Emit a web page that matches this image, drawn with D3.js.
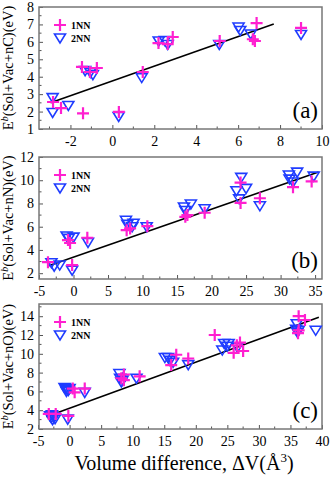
<!DOCTYPE html>
<html><head><meta charset="utf-8">
<script src="https://cdn.jsdelivr.net/npm/d3@7"></script>
<style>body{margin:0;background:#fff}svg{display:block}</style>
</head><body><svg id="c" width="332" height="477"></svg>
<script>
// Panel (a): nC
const a1NN = [[-2.83,2.55],[-2.45,2.2],[-1.4,1.9],[-1.45,4.56],[-1.07,4.27],[-0.74,4.5],[0.31,1.98],[1.45,4.27],[2.2,5.93],[2.64,5.87],[2.88,6.28],[5.12,6.05],[6.88,7.08],[6.7,6.15],[6.8,6.05],[9.0,6.8]];
const a2NN = [[-2.85,2.8],[-2.85,1.95],[-2.1,2.35],[-1.3,4.35],[-1.05,4.25],[-0.93,4.12],[0.3,1.72],[1.4,3.95],[2.21,6.05],[2.5,6.08],[2.64,5.85],[5.1,5.85],[6.02,6.85],[6.1,6.65],[6.6,6.45],[9.0,6.42]];
const aFit = [[-2.95,2.5],[7.7,7.02]];
const aXTicks = [-2,0,2,4,6,8,10];
const aYTicks = [1,2,3,4,5,6,7,8];
// Panel (b): nN
const b1NN = [[-3.7,2.95],[-0.8,4.85],[-0.5,4.6],[-0.2,2.7],[2.0,5.05],[7.7,5.7],[8.2,5.85],[10.7,6.05],[16.2,6.85],[16.5,7.0],[19.0,7.2],[24.2,8.05],[24.2,9.8],[27.0,8.45],[31.8,9.4],[34.5,9.9]];
const b2NN = [[-3.2,2.9],[-2.8,2.6],[-2.0,2.7],[-1.0,5.2],[-0.7,5.0],[0.0,5.1],[-0.2,2.25],[2.1,4.65],[7.6,6.55],[7.8,6.2],[8.5,6.0],[8.7,6.3],[10.6,6.0],[16.0,7.7],[16.2,7.4],[17.0,7.95],[19.0,7.55],[23.6,9.1],[24.3,10.25],[24.0,8.4],[25.0,9.3],[27.0,7.8],[31.2,10.45],[31.3,10.1],[31.8,9.85],[32.4,10.7],[34.8,10.35]];
const bFit = [[-3.8,2.6],[35.5,10.7]];
const bXTicks = [-5,0,5,10,15,20,25,30,35];
const bYTicks = [2,4,6,8,10,12];
// Panel (c): nO
const c1NN = [[-3.3,3.6],[-2.2,3.6],[-0.2,3.4],[0.5,6.3],[0.8,5.9],[2.4,6.3],[8.2,7.4],[8.6,7.8],[8.6,7.2],[11.1,7.6],[16.1,8.8],[16.9,9.9],[18.8,9.5],[23.0,12.0],[26.0,10.1],[26.5,10.9],[27.0,11.2],[27.5,10.3],[36.3,14.0],[37.3,13.6],[36.3,12.5],[36.2,12.2]];
const c2NN = [[-3.1,3.4],[-2.9,3.2],[-2.7,3.0],[-2.5,3.3],[-2.3,3.1],[-2.8,3.5],[-0.3,3.05],[-0.8,6.4],[-0.6,6.3],[-0.4,6.2],[-0.2,6.1],[0.0,6.3],[-0.5,6.0],[2.4,5.9],[7.9,7.9],[8.0,7.4],[8.4,7.2],[8.2,7.0],[10.6,7.4],[15.1,9.6],[15.6,9.6],[15.9,9.3],[16.4,9.1],[18.8,8.85],[24.2,10.4],[24.5,11.1],[25.2,11.1],[25.0,10.8],[26.6,10.7],[36.0,13.2],[35.9,12.6],[36.1,12.3],[36.3,12.5],[39.0,12.5]];
const cFit = [[-3.7,3.3],[39.5,13.9]];
const cXTicks = [-5,0,5,10,15,20,25,30,35,40];
const cYTicks = [2,4,6,8,10,12,14];

const panels = [
  {p1:a1NN,p2:a2NN,fit:aFit,xd:[-3.5,10],yd:[1,8],xt:aXTicks,yt:aYTicks,xm:1,ym:0.5,top:7,bot:129,el:"C",tag:"(a)"},
  {p1:b1NN,p2:b2NN,fit:bFit,xd:[-5,36],yd:[1.5,12],xt:bXTicks,yt:bYTicks,xm:2.5,ym:1,top:157,bot:279,el:"N",tag:"(b)"},
  {p1:c1NN,p2:c2NN,fit:cFit,xd:[-4.85,40],yd:[2,15.3],xt:cXTicks,yt:cYTicks,xm:2.5,ym:1,top:304,bot:429,el:"O",tag:"(c)"}
];
const L=39,R=322;
const FF="'Liberation Serif'";
const svg=d3.select("#c");
const mag="#ff1fd0", blu="#1f3cff";
function cross(g,x,y){g.append("path").attr("d",`M${x-6},${y}H${x+6}M${x},${y-6}V${y+6}`).attr("stroke",mag).attr("stroke-width",2.2).attr("fill","none");}
function tri(g,x,y){g.append("path").attr("d",`M${x-5.5},${y-4}L${x+5.5},${y-4}L${x},${y+5}Z`).attr("stroke",blu).attr("stroke-width",1.6).attr("fill","none");}
panels.forEach(P=>{
  const x=d3.scaleLinear().domain(P.xd).range([L,R]);
  const y=d3.scaleLinear().domain(P.yd).range([P.bot,P.top]);
  const g=svg.append("g");
  const xa=d3.axisBottom(x).tickValues(P.xt).tickSize(-4).tickPadding(7).tickFormat(d=>d<0?"-"+Math.abs(d):String(d));
  const gx=g.append("g").attr("transform",`translate(0,${P.bot})`).call(xa);
  const minorX=d3.range(P.xd[0],P.xd[1],P.xm).map(v=>Math.round(v/P.xm)*P.xm).filter(v=>v>P.xd[0]&&v<P.xd[1]&&!P.xt.includes(v));
  g.selectAll(".mx").data(minorX).join("line").attr("x1",d=>x(d)).attr("x2",d=>x(d)).attr("y1",P.bot).attr("y2",P.bot-2.5).attr("stroke","#555");
  const ya=d3.axisLeft(y).tickValues(P.yt).tickSize(-4).tickPadding(5).tickFormat(d=>String(d));
  const gy=g.append("g").attr("transform",`translate(${L},0)`).call(ya);
  const minorY=d3.range(Math.ceil(P.yd[0]/P.ym)*P.ym,P.yd[1],P.ym).filter(v=>!P.yt.includes(v));
  g.selectAll(".my").data(minorY).join("line").attr("x1",L).attr("x2",L+2.5).attr("y1",d=>y(d)).attr("y2",d=>y(d)).attr("stroke","#555");
  [gx,gy].forEach(a=>{a.attr("font-family",FF).attr("font-size",14);a.select(".domain").remove();a.selectAll(".tick line").attr("stroke","#555");a.selectAll("text").style("font-family",FF).attr("font-size",14).attr("fill","#000");});
  g.append("rect").attr("x",L).attr("y",P.top).attr("width",R-L).attr("height",P.bot-P.top).attr("fill","none").attr("stroke","#777").attr("stroke-width",1.5);
  g.append("line").attr("x1",x(P.fit[0][0])).attr("y1",y(P.fit[0][1])).attr("x2",x(P.fit[1][0])).attr("y2",y(P.fit[1][1])).attr("stroke","#000").attr("stroke-width",1.6);
  P.p2.forEach(d=>tri(g,x(d[0]),y(d[1])));
  P.p1.forEach(d=>cross(g,x(d[0]),y(d[1])));
  cross(g,60,P.top+18);
  g.append("text").attr("x",71).attr("y",P.top+22).attr("font-size",10).attr("font-weight","bold").style("font-family",FF).text("1NN");
  tri(g,60,P.top+31);
  g.append("text").attr("x",71).attr("y",P.top+35).attr("font-size",10).attr("font-weight","bold").style("font-family",FF).text("2NN");
  g.append("text").attr("x",318).attr("y",P.bot-11).attr("text-anchor","end").attr("font-size",23).style("font-family",FF).text(P.tag);
  const cy=(P.top+P.bot)/2;
  const t=g.append("text").attr("transform",`translate(13,${cy}) rotate(-90)`).attr("text-anchor","middle").attr("font-size",14.5).style("font-family",FF);
  t.append("tspan").text("E");
  t.append("tspan").attr("dy",-5).attr("font-size",10).attr("font-style","italic").text("b");
  t.append("tspan").attr("dy",5).text(`(Sol+Vac+n${P.el})(eV)`);
});
const xt=svg.append("text").attr("x",184).attr("y",470).attr("text-anchor","middle").attr("font-size",20).style("font-family",FF);
xt.append("tspan").text("Volume difference, ΔV(Å");
xt.append("tspan").attr("dy",-8).attr("font-size",13).text("3");
xt.append("tspan").attr("dy",8).text(")");
</script></body></html>
